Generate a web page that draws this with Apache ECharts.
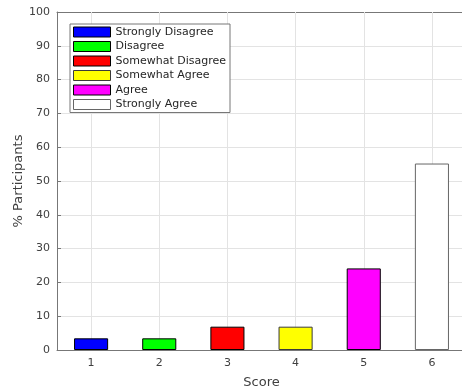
<!DOCTYPE html>
<html>
<head>
<meta charset="utf-8">
<script src="https://cdn.jsdelivr.net/npm/echarts@6/dist/echarts.min.js"></script>
<style>
  html, body { margin: 0; padding: 0; background: #fff; }
  #chart { width: 462px; height: 392px; }
</style>
</head>
<body>
<div id="chart"></div>
<script>
// Response categories and their score positions
const scores = ['1', '2', '3', '4', '5', '6'];
const categories = ['Strongly Disagree', 'Disagree', 'Somewhat Disagree', 'Somewhat Agree', 'Agree', 'Strongly Agree'];
// Percent of participants per score
const percents = [3.45, 3.45, 6.9, 6.9, 24.14, 55.17];
const fillColors = ['#0000ff', '#00ff00', '#ff0000', '#ffff00', '#ff00ff', '#ffffff'];
const edgeColors = ['#000000', '#000000', '#000000', '#3a3a3a', '#000000', '#666666'];
const yTicks = [0, 10, 20, 30, 40, 50, 60, 70, 80, 90, 100];

const axisGray = '#777777';
const textGray = '#404040';
const gridGray = '#e3e3e3';
const font = 'DejaVu Sans';

// One series per response so each gets its own legend entry
const barSeries = categories.map((name, i) => ({
  name: name,
  type: 'bar',
  xAxisIndex: 0,
  yAxisIndex: 0,
  barWidth: '50%',
  barGap: '-100%',
  z: 3,
  data: scores.map((s, j) => (j === i ? percents[i] : '-')),
  itemStyle: { color: fillColors[i], borderColor: edgeColors[i], borderWidth: 1 }
}));

// Vertical grid lines at each score, kept under the bars
const gridSeries = {
  type: 'line',
  xAxisIndex: 0,
  yAxisIndex: 0,
  data: [],
  z: 1,
  silent: true,
  markLine: {
    z: 1,
    silent: true,
    symbol: 'none',
    label: { show: false },
    lineStyle: { color: gridGray, width: 1, type: 'solid' },
    data: scores.map(s => ({ xAxis: s }))
  }
};

const chart = echarts.init(document.getElementById('chart'), null, { renderer: 'canvas' });
chart.setOption({
  animation: false,
  backgroundColor: '#ffffff',
  textStyle: { fontFamily: font },
  grid: { left: 57, right: -4, top: 12, bottom: 42, containLabel: false, outerBoundsMode: 'none' },
  legend: {
    orient: 'vertical',
    left: 70,
    top: 24,
    data: categories,
    icon: 'rect',
    itemWidth: 37,
    itemHeight: 10,
    itemGap: 0.5,
    padding: [1, 4, 1, 3],
    backgroundColor: '#ffffff',
    borderColor: axisGray,
    borderWidth: 1,
    borderRadius: 0,
    selectedMode: false,
    itemStyle: { borderWidth: 1 },
    textStyle: { fontFamily: font, fontSize: 11, color: '#262626', lineHeight: 14 }
  },
  xAxis: [
    {
      type: 'category',
      data: scores,
      position: 'bottom',
      boundaryGap: true,
      name: 'Score',
      nameLocation: 'middle',
      nameGap: 26,
      nameMoveOverlap: false,
      nameTextStyle: { fontFamily: font, fontSize: 13, color: textGray },
      axisLine: { show: true, lineStyle: { color: axisGray, width: 1 } },
      axisTick: { show: true, inside: true, length: 4, alignWithLabel: true, lineStyle: { color: axisGray } },
      axisLabel: { fontFamily: font, fontSize: 11, color: textGray, margin: 8 },
      splitLine: { show: false }
    },
    {
      type: 'category',
      data: scores,
      position: 'top',
      boundaryGap: true,
      axisLine: { show: true, lineStyle: { color: axisGray, width: 1 } },
      axisTick: { show: true, inside: true, length: 4, alignWithLabel: true, lineStyle: { color: axisGray } },
      axisLabel: { show: false },
      splitLine: { show: false }
    }
  ],
  yAxis: [
    {
      type: 'value',
      min: 0,
      max: 100,
      interval: 10,
      position: 'left',
      name: '% Participants',
      nameLocation: 'middle',
      nameGap: 32,
      nameMoveOverlap: false,
      nameTextStyle: { fontFamily: font, fontSize: 13, color: textGray },
      axisLine: { show: true, lineStyle: { color: axisGray, width: 1 } },
      axisTick: { show: true, inside: true, length: 4, lineStyle: { color: axisGray } },
      axisLabel: {
        fontFamily: font, fontSize: 11, color: textGray, margin: 7,
        formatter: v => (yTicks.indexOf(v) >= 0 ? String(v) : '')
      },
      splitLine: { show: true, lineStyle: { color: gridGray, width: 1 } }
    }
  ],
  series: [gridSeries].concat(barSeries)
});
</script>
</body>
</html>
